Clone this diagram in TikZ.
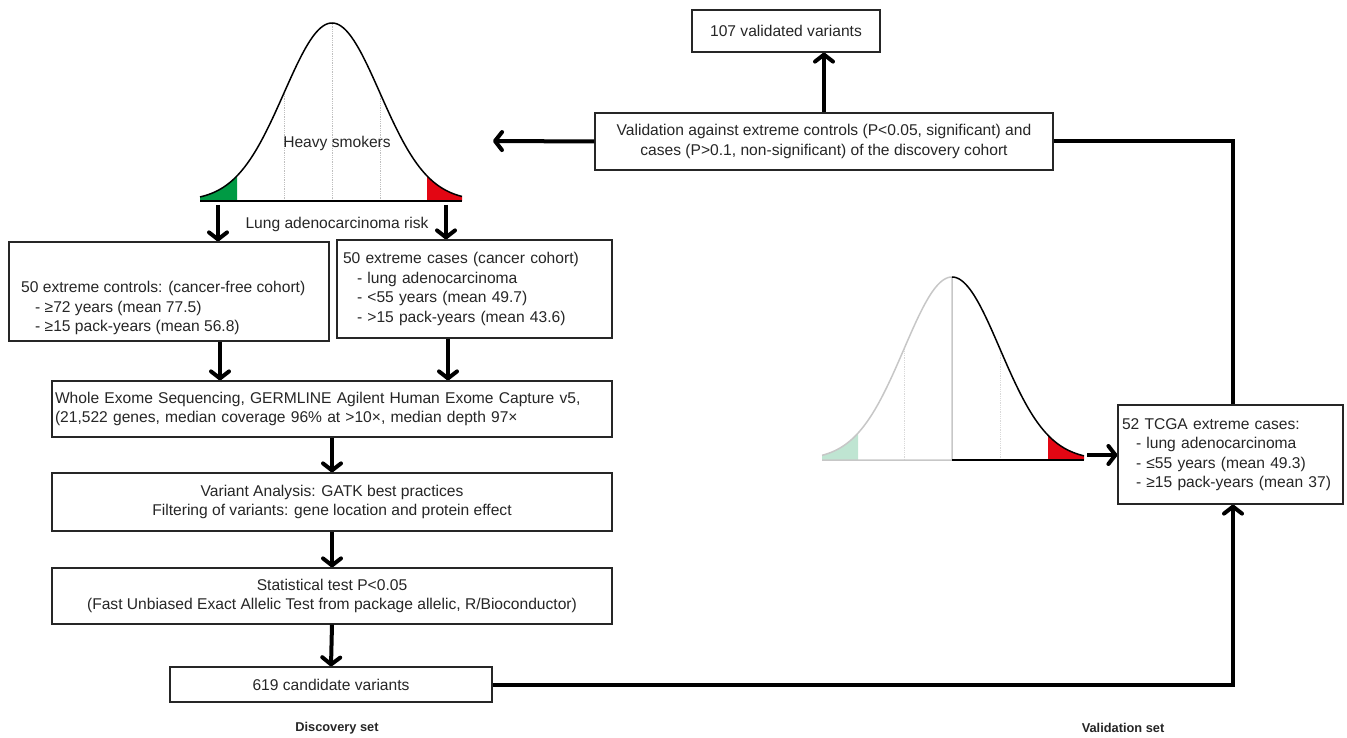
\documentclass[tikz,border=0pt]{standalone}
\usepackage{fontspec}
\setmainfont{Liberation Sans}
\usetikzlibrary{arrows.meta}
\definecolor{SmokeGreen}{HTML}{009A44}
\definecolor{SmokeRed}{HTML}{E30613}
\definecolor{PaleGreen}{HTML}{BFE5D2}
\definecolor{InkGray}{HTML}{262626}

\begin{document}
\begin{tikzpicture}[x=1pt, y=-1pt,
    declare function={bell(\t)=exp(-0.5*(\t/48)^2);},
    every node/.style={text=InkGray, font=\fontsize{15.6}{19.5}\selectfont},
    box/.style={draw=InkGray, line width=1.2pt, fill=white, inner sep=0pt},
    arr/.style={line width=4pt, -{Straight Barb[length=7pt,width=18pt,round]}},
    link/.style={line width=4pt},
    curve/.style={line width=1.5pt},
    tick/.style={black!25, densely dotted, line width=0.8pt}]
  \useasboundingbox (0,0) rectangle (1347,738);

  % Discovery cohort curve
  \fill[SmokeGreen] (200,201) -- plot[domain=-132:-95, samples=20] ({332+\x},{201-178*bell(\x)}) -- (237,201) -- cycle;
  \fill[SmokeRed] (427,201) -- plot[domain=95:130, samples=20] ({332+\x},{201-178*bell(\x)}) -- (462,201) -- cycle;
  \foreach \s in {-48,0,48}
    \draw[tick] ({332+\s},201) -- ({332+\s},{201-178*bell(\s)});
  \draw[curve] plot[domain=-132:130, samples=120] ({332+\x},{201-178*bell(\x)});
  \draw[curve] (200,201) -- (462,201);
  \node (smokers) at (337,143) {Heavy smokers};
  \node (risk) at (337,224) {Lung adenocarcinoma risk};
  \coordinate (ltail) at (218,205);
  \coordinate (rtail) at (446,205);

  % Discovery boxes
  \node[box, minimum width=320, minimum height=99] (ctrl) at (169,291.5) {};
  \node[anchor=west, align=left, inner sep=0pt] (ctrltext) at (21,308)
    {50 extreme controls: (cancer-free cohort)\\
     \hspace*{14pt}- ≥72 years (mean 77.5)\\
     \hspace*{14pt}- ≥15 pack-years (mean 56.8)};
  \node[box, minimum width=275, minimum height=98, text width=263, inner xsep=6, align=left] (cases) at (474.5,289)
    {50 extreme cases (cancer cohort)\\
     \hspace*{14pt}- lung adenocarcinoma\\
     \hspace*{14pt}- <55 years (mean 49.7)\\
     \hspace*{14pt}- >15 pack-years (mean 43.6)};
  \node[box, minimum width=560, minimum height=56, text width=554, inner xsep=3, align=left] (wes) at (332,409)
    {Whole Exome Sequencing, GERMLINE Agilent Human Exome Capture v5,\\
     (21,522 genes, median coverage 96\% at >10×, median depth 97×};
  \node[box, minimum width=560, minimum height=58, align=center] (gatk) at (332,502)
    {Variant Analysis: GATK best practices\\
     Filtering of variants: gene location and protein effect};
  \node[box, minimum width=560, minimum height=56, align=center] (stat) at (332,596)
    {Statistical test P<0.05\\
     (Fast Unbiased Exact Allelic Test from package allelic, R/Bioconductor)};
  \node[box, minimum width=322, minimum height=35] (cand) at (331,684.5) {619 candidate variants};
  \node[font=\fontsize{12.8}{15}\selectfont\bfseries] (disc) at (337,728) {Discovery set};

  % Validation cohort curve
  \fill[PaleGreen] (822,460) -- plot[domain=-130:-94, samples=20] ({952+\x},{460-183*bell(\x)}) -- (858,460) -- cycle;
  \fill[SmokeRed] (1048,460) -- plot[domain=96:132, samples=20] ({952+\x},{460-183*bell(\x)}) -- (1084,460) -- cycle;
  \foreach \s in {-48,0,48}
    \draw[tick, black!15] ({952+\s},460) -- ({952+\s},{460-183*bell(\s)});
  \draw[curve, black!22] plot[domain=-130:0, samples=60] ({952+\x},{460-183*bell(\x)}) -- (952,460) -- (822,460);
  \draw[curve] plot[domain=0:132, samples=60] ({952+\x},{460-183*bell(\x)});
  \draw[curve] (952,460) -- (1084,460);
  \coordinate (vtail) at (1087,455);

  % Validation boxes
  \node[box, minimum width=225, minimum height=99, text width=217, inner xsep=4, align=left] (tcga) at (1230.5,454.5)
    {52 TCGA extreme cases:\\
     \hspace*{14pt}- lung adenocarcinoma\\
     \hspace*{14pt}- ≤55 years (mean 49.3)\\
     \hspace*{14pt}- ≥15 pack-years (mean 37)};
  \node[box, minimum width=458, minimum height=57, align=center] (check) at (824,141.5)
    {Validation against extreme controls (P<0.05, significant) and\\
     cases (P>0.1, non-significant) of the discovery cohort};
  \node[box, minimum width=188, minimum height=42] (valid) at (786,31) {107 validated variants};
  \node[font=\fontsize{12.8}{15}\selectfont\bfseries] (vset) at (1123,728) {Validation set};
  \coordinate (back) at (493,141);

  % Arrows
  \draw[arr] (ltail) -- (ltail |- ctrl.north);
  \draw[arr] (rtail) -- (rtail |- cases.north);
  \draw[arr] ([xshift=51]ctrl.south) -- ([xshift=51]ctrl.south |- wes.north);
  \draw[arr] ([xshift=-26.5]cases.south) -- ([xshift=-26.5]cases.south |- wes.north);
  \draw[arr] (wes.south) -- (gatk.north);
  \draw[arr] (gatk.south) -- (stat.north);
  \draw[arr] (stat.south) -- (cand.north);
  \draw[arr] (vtail) -- (vtail -| tcga.west);
  \draw[link, -{Straight Barb[length=7pt,width=18pt,round]}] (cand.east) -| ([xshift=2.5]tcga.south);
  \draw[link] ([xshift=2.5]tcga.north) |- (check.east);
  \draw[arr] (check.west) -- (back);
  \draw[arr] (check.north) -- (check.north |- valid.south);
\end{tikzpicture}
\end{document}
